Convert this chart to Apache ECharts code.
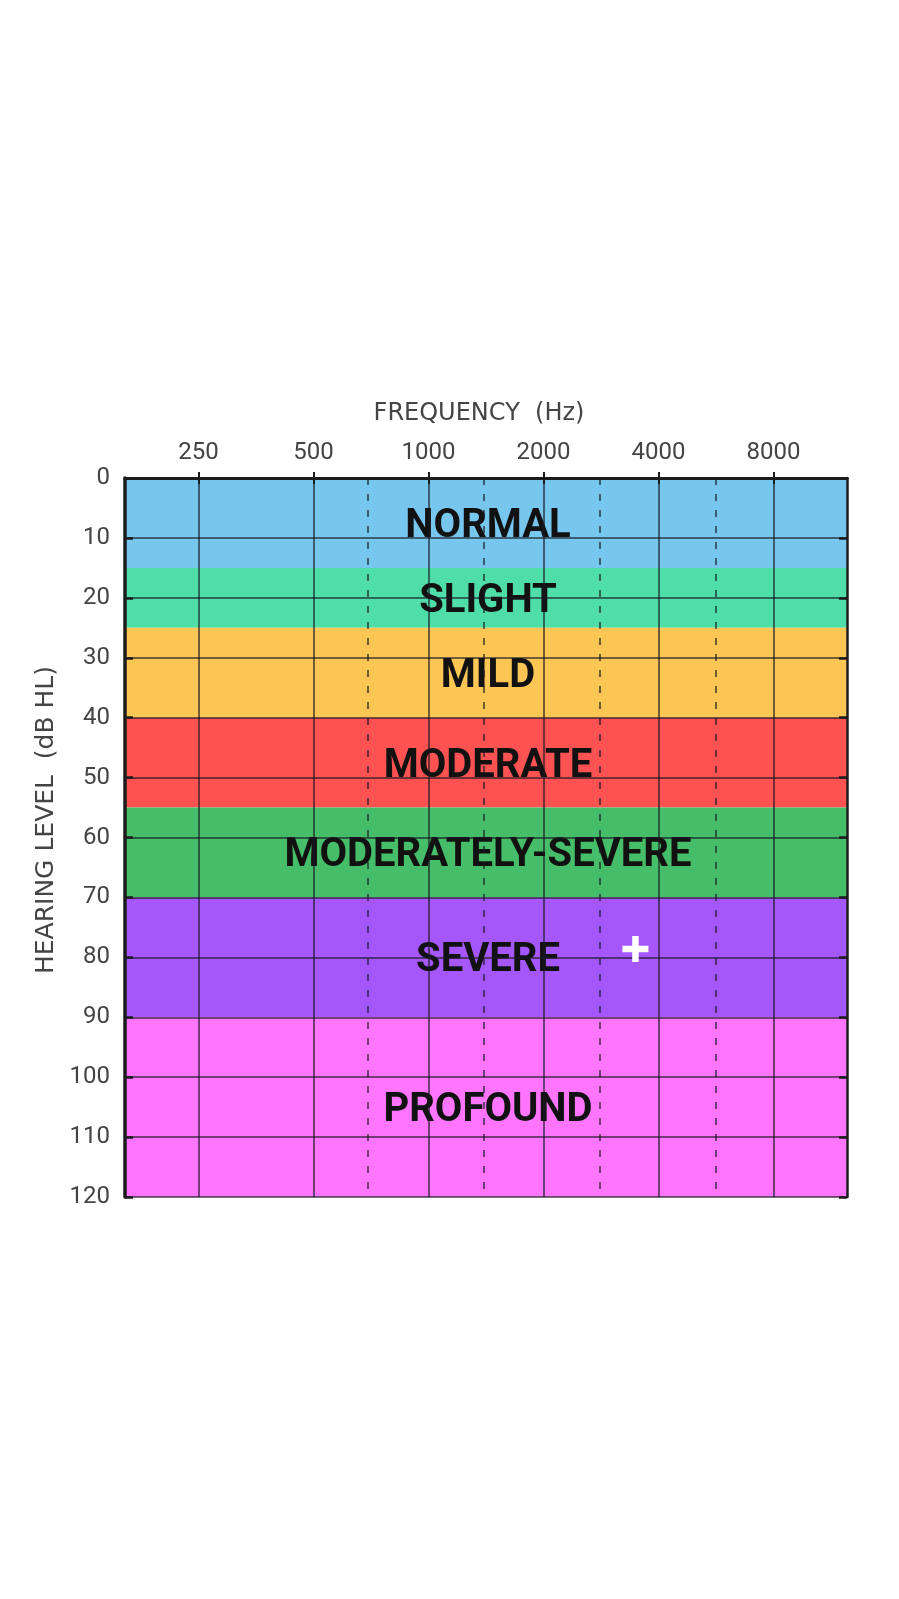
<!DOCTYPE html>
<html>
<head>
<meta charset="utf-8">
<script src="https://cdn.jsdelivr.net/npm/echarts@6/dist/echarts.min.js"></script>
<style>
  html, body { margin: 0; padding: 0; background: #ffffff; }
  #chart { width: 899px; height: 1599px; }
</style>
</head>
<body>
<div id="chart"></div>
<script>
// ---- data ----
const freqLabels = ['250', '500', '1000', '2000', '4000', '8000'];
const freqPos = [1, 2, 3, 4, 5, 6];               // octave index of each frequency
const halfOctavePos = [2.47, 3.48, 4.49, 5.5];   // dashed inter-octave lines
const xExtent = [0.36, 6.64];
const yTicks = [0, 10, 20, 30, 40, 50, 60, 70, 80, 90, 100, 110, 120];
const bandNames = ['NORMAL', 'SLIGHT', 'MILD', 'MODERATE', 'MODERATELY-SEVERE', 'SEVERE', 'PROFOUND'];
const bandFrom = [0, 15, 25, 40, 55, 70, 90];
const bandTo = [15, 25, 40, 55, 70, 90, 120];
const bandColors = ['#76C6EE', '#4FDDA9', '#FBC653', '#FD5252', '#45BD69', '#A657FC', '#FF75FD'];
const cursorPoint = [4.8, 78.6];

// ---- chart ----
const chart = echarts.init(document.getElementById('chart'), null, { renderer: 'canvas' });
const gridLineColor = 'rgba(25,25,35,0.82)';
const labelFont = 'Roboto';
const titleFont = 'DejaVu Sans';

const option = {
  backgroundColor: '#ffffff',
  animation: false,
  grid: { left: 125, top: 478, width: 722, height: 719, containLabel: false },
  xAxis: [
    {
      type: 'value', position: 'top', min: xExtent[0], max: xExtent[1], z: 5,
      name: 'FREQUENCY  (Hz)', nameLocation: 'middle', nameGap: 52,
      nameTextStyle: { fontFamily: titleFont, fontSize: 24, color: '#444', padding: [0, 14, 0, 0] },
      axisLine: { show: true, lineStyle: { color: '#1c1c1c', width: 3 } },
      axisTick: { show: true, inside: true, length: 6, lineStyle: { color: '#1c1c1c', width: 2 }, customValues: freqPos },
      axisLabel: {
        show: true, margin: 13, fontFamily: labelFont, fontSize: 24, color: '#444',
        customValues: freqPos,
        formatter: v => freqLabels[freqPos.indexOf(Math.round(v))] || ''
      },
      splitLine: { show: false }
    },
    {
      type: 'value', position: 'bottom', min: xExtent[0], max: xExtent[1], z: 5,
      axisLine: { show: true, lineStyle: { color: '#1c1c1c', width: 2.5 } },
      axisTick: { show: true, inside: true, length: 6, lineStyle: { color: '#1c1c1c', width: 2 }, customValues: freqPos },
      axisLabel: { show: false },
      splitLine: { show: false }
    }
  ],
  yAxis: [
    {
      type: 'value', inverse: true, min: 0, max: 120, interval: 10, position: 'left', z: 5,
      name: 'HEARING LEVEL  (dB HL)', nameLocation: 'middle', nameRotate: 90, nameGap: 59,
      nameTextStyle: { fontFamily: titleFont, fontSize: 25, color: '#444', padding: [0, 0, 0, 35] },
      axisLine: { show: true, lineStyle: { color: '#1c1c1c', width: 3.5 } },
      axisTick: { show: true, inside: true, length: 8, lineStyle: { color: '#1c1c1c', width: 2.5 } },
      axisLabel: { show: true, margin: 15, fontFamily: labelFont, fontSize: 24, color: '#444',
        formatter: v => (yTicks.indexOf(v) >= 0 ? String(v) : '') },
      splitLine: { show: true, lineStyle: { color: gridLineColor, width: 1.5 } }
    },
    {
      type: 'value', inverse: true, min: 0, max: 120, interval: 10, position: 'right', z: 5,
      axisLine: { show: true, lineStyle: { color: '#1c1c1c', width: 2.5 } },
      axisTick: { show: true, inside: true, length: 8, lineStyle: { color: '#1c1c1c', width: 2.5 } },
      axisLabel: { show: false },
      splitLine: { show: false }
    }
  ],
  series: [
    {
      name: 'bands', type: 'line', xAxisIndex: 0, yAxisIndex: 0, data: [], z: 1,
      markArea: {
        silent: true,
        data: bandNames.map((n, i) => [
          {
            name: n, yAxis: bandFrom[i],
            itemStyle: { color: bandColors[i], opacity: 1 },
            label: {
              show: true, position: 'inside', offset: [2, 4], fontFamily: labelFont, fontWeight: 'bold',
              fontSize: 40, color: '#111111'
            }
          },
          { yAxis: bandTo[i] }
        ])
      }
    },
    {
      name: 'frequency lines', type: 'line', xAxisIndex: 0, yAxisIndex: 0, data: [], z: 3,
      markLine: {
        silent: true, symbol: ['none', 'none'], label: { show: false }, animation: false,
        data: freqPos.map(v => ({ xAxis: v, lineStyle: { color: gridLineColor, width: 1.5, type: 'solid' } }))
          .concat(halfOctavePos.map(v => ({ xAxis: v, lineStyle: { color: gridLineColor, width: 1.5, type: [7, 9] } })))
      }
    },
    {
      name: 'cursor', type: 'scatter', xAxisIndex: 0, yAxisIndex: 0, z: 10,
      data: [cursorPoint],
      symbol: 'path://M3,0 L5,0 L5,3 L8,3 L8,5 L5,5 L5,8 L3,8 L3,5 L0,5 L0,3 L3,3 Z',
      symbolSize: 26,
      itemStyle: { color: '#ffffff', opacity: 1 },
      silent: true
    }
  ]
};
chart.setOption(option);
</script>
</body>
</html>
